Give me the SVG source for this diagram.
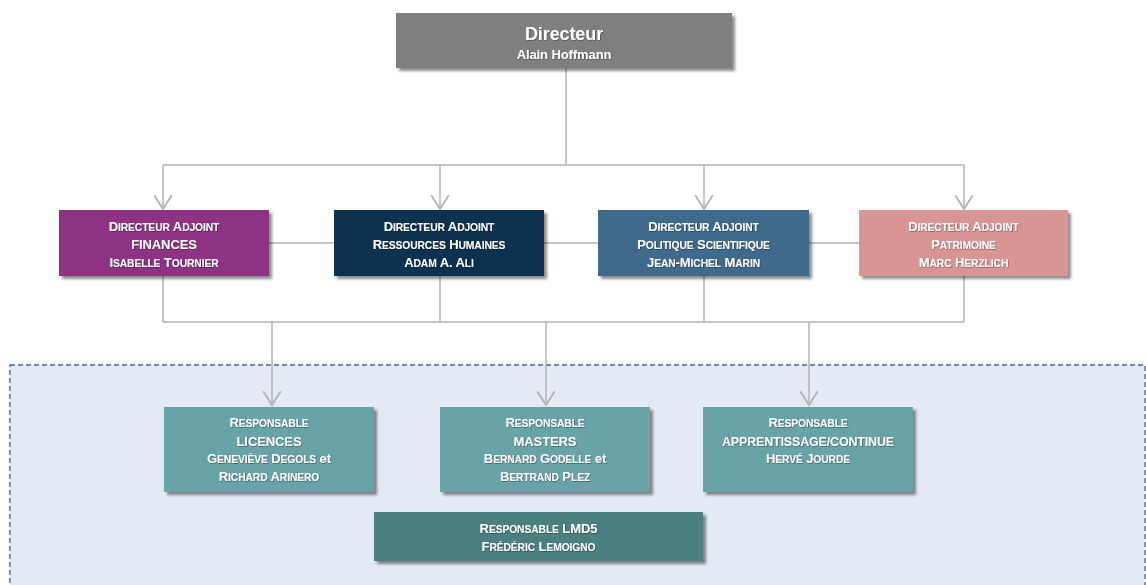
<svg xmlns="http://www.w3.org/2000/svg" width="1146" height="585" viewBox="0 0 1146 585">
<defs>
<filter id="sh" x="-10%" y="-10%" width="130%" height="140%">
<feDropShadow dx="3" dy="3" stdDeviation="1.5" flood-color="#000" flood-opacity="0.45"/>
</filter>
<filter id="tsh" x="-5%" y="-20%" width="110%" height="150%">
<feDropShadow dx="0.6" dy="0.6" stdDeviation="0.4" flood-color="#000" flood-opacity="0.5"/>
</filter>
<marker id="arr" markerUnits="userSpaceOnUse" markerWidth="20" markerHeight="20" refX="0" refY="0" orient="auto" viewBox="-12 -8 14 16" overflow="visible">
<path d="M-11,-7 L0,0 L-11,7" fill="none" stroke="#B3B3B3" stroke-width="1.5"/>
</marker>
</defs>
<style>
.box{filter:url(#sh);}
.t{font-family:"Liberation Sans",Arial,sans-serif;font-weight:bold;fill:#fff;text-anchor:middle;filter:url(#tsh);font-size:13px;letter-spacing:-0.1px;}
.s{font-size:10.3px;text-transform:uppercase;}
.ln{fill:none;stroke:#B3B3B3;stroke-width:1.5;}
</style>
<rect width="1146" height="585" fill="#fff"/>
<rect id="panel" x="10" y="365" width="1135" height="230" fill="#E3EAF4" stroke="#46668A" stroke-width="1.3" stroke-dasharray="5,3"/>
<g id="connectors">
<path class="ln" d="M566 68 V165 M163 165 H964"/>
<path class="ln" d="M163 165 V209" marker-end="url(#arr)"/>
<path class="ln" d="M440 165 V209" marker-end="url(#arr)"/>
<path class="ln" d="M704 165 V209" marker-end="url(#arr)"/>
<path class="ln" d="M964 165 V209" marker-end="url(#arr)"/>
<path class="ln" d="M269 243 H334 M544 243 H598 M809 243 H859"/>
<path class="ln" d="M163 276 V322 M440 276 V322 M704 276 V322 M964 276 V322 M163 322 H964"/>
<path class="ln" d="M272 322 V405" marker-end="url(#arr)"/>
<path class="ln" d="M546 322 V405" marker-end="url(#arr)"/>
<path class="ln" d="M809 322 V405" marker-end="url(#arr)"/>
</g>
<g id="directeur">
<rect class="box" x="396" y="13" width="336" height="55" fill="#7F7F7F"/>
<text class="t" x="564" y="40" font-size="18" style="font-size:18px">Directeur</text>
<text class="t" x="564" y="59">Alain Hoffmann</text>
</g>
<g id="finances">
<rect class="box" x="59" y="210" width="210" height="66" fill="#8E3083"/>
<text class="t" x="164" y="231">D<tspan class="s">irecteur</tspan> A<tspan class="s">djoint</tspan></text>
<text class="t" x="164" y="249">FINANCES</text>
<text class="t" x="164" y="267">I<tspan class="s">sabelle</tspan> T<tspan class="s">ournier</tspan></text>
</g>
<g id="rh">
<rect class="box" x="334" y="210" width="210" height="66" fill="#0C3050"/>
<text class="t" x="439" y="231">D<tspan class="s">irecteur</tspan> A<tspan class="s">djoint</tspan></text>
<text class="t" x="439" y="249">R<tspan class="s">essources</tspan> H<tspan class="s">umaines</tspan></text>
<text class="t" x="439" y="267">A<tspan class="s">dam</tspan> A. A<tspan class="s">li</tspan></text>
</g>
<g id="politique">
<rect class="box" x="598" y="210" width="211" height="66" fill="#3F6A8C"/>
<text class="t" x="703.5" y="231">D<tspan class="s">irecteur</tspan> A<tspan class="s">djoint</tspan></text>
<text class="t" x="703.5" y="249">P<tspan class="s">olitique</tspan> S<tspan class="s">cientifique</tspan></text>
<text class="t" x="703.5" y="267">J<tspan class="s">ean</tspan>-M<tspan class="s">ichel</tspan> M<tspan class="s">arin</tspan></text>
</g>
<g id="patrimoine">
<rect class="box" x="859" y="210" width="209" height="66" fill="#D99594"/>
<text class="t" x="963.5" y="231">D<tspan class="s">irecteur</tspan> A<tspan class="s">djoint</tspan></text>
<text class="t" x="963.5" y="249">P<tspan class="s">atrimoine</tspan></text>
<text class="t" x="963.5" y="267">M<tspan class="s">arc</tspan> H<tspan class="s">erzlich</tspan></text>
</g>
<g id="licences">
<rect class="box" x="164" y="407" width="210" height="85" fill="#67A3A7"/>
<text class="t" x="269" y="427">R<tspan class="s">esponsable</tspan></text>
<text class="t" x="269" y="446">LICENCES</text>
<text class="t" x="269" y="463">G<tspan class="s">eneviève</tspan> D<tspan class="s">egols</tspan> et</text>
<text class="t" x="269" y="481">R<tspan class="s">ichard</tspan> A<tspan class="s">rinero</tspan></text>
</g>
<g id="masters">
<rect class="box" x="440" y="407" width="210" height="85" fill="#67A3A7"/>
<text class="t" x="545" y="427">R<tspan class="s">esponsable</tspan></text>
<text class="t" x="545" y="446">MASTERS</text>
<text class="t" x="545" y="463">B<tspan class="s">ernard</tspan> G<tspan class="s">odelle</tspan> et</text>
<text class="t" x="545" y="481">B<tspan class="s">ertrand</tspan> P<tspan class="s">lez</tspan></text>
</g>
<g id="apprentissage">
<rect class="box" x="703" y="407" width="210" height="85" fill="#67A3A7"/>
<text class="t" x="808" y="427">R<tspan class="s">esponsable</tspan></text>
<text class="t" x="808" y="446" style="font-size:12.4px">APPRENTISSAGE/CONTINUE</text>
<text class="t" x="808" y="463">H<tspan class="s">ervé</tspan> J<tspan class="s">ourde</tspan></text>
</g>
<g id="lmd5">
<rect class="box" x="374" y="512" width="329" height="49" fill="#4C8081"/>
<text class="t" x="538.5" y="533">R<tspan class="s">esponsable</tspan> LMD5</text>
<text class="t" x="538.5" y="551">F<tspan class="s">rédéric</tspan> L<tspan class="s">emoigno</tspan></text>
</g>
</svg>
